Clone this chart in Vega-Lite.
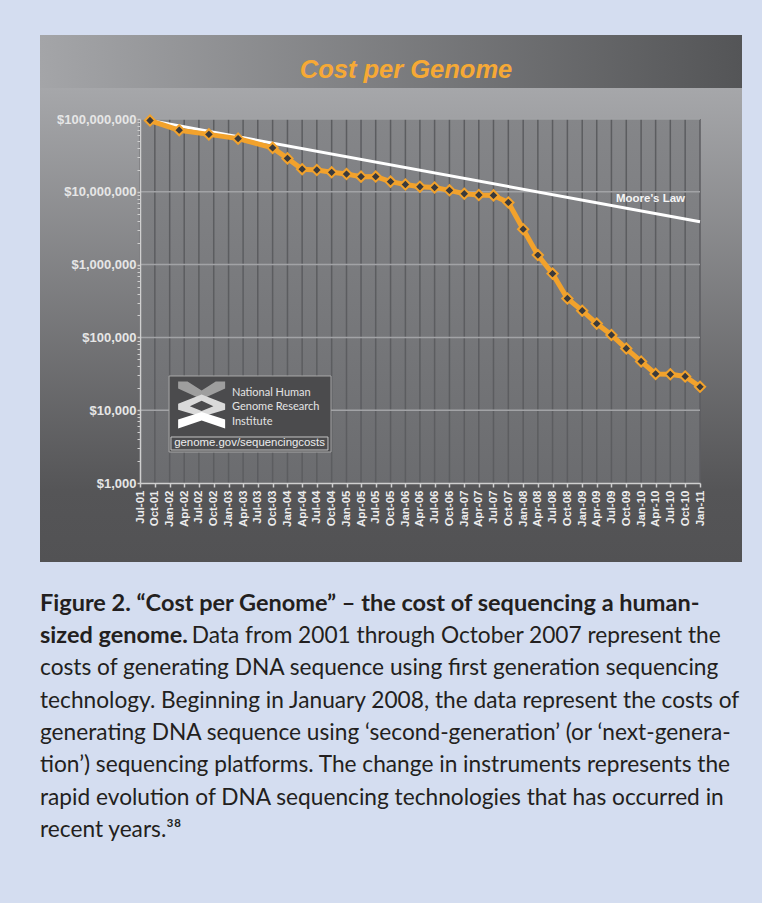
{
  "$schema": "https://vega.github.io/schema/vega-lite/v6.json",
  "background": "#d4ddf0",
  "padding": {"left": 40, "top": 35, "right": 30, "bottom": 70},
  "spacing": 0,
  "config": {"view": {"stroke": null}},
  "datasets": {
    "cost": [
      {"date": "2001-09-01", "cost": 95263072},
      {"date": "2002-03-01", "cost": 70175437},
      {"date": "2002-09-01", "cost": 61448422},
      {"date": "2003-03-01", "cost": 53751684},
      {"date": "2003-10-01", "cost": 40157554},
      {"date": "2004-01-01", "cost": 28780376},
      {"date": "2004-04-01", "cost": 20442576},
      {"date": "2004-07-01", "cost": 19934346},
      {"date": "2004-10-01", "cost": 18519312},
      {"date": "2005-01-01", "cost": 17534970},
      {"date": "2005-04-01", "cost": 16159699},
      {"date": "2005-07-01", "cost": 16180224},
      {"date": "2005-10-01", "cost": 13801124},
      {"date": "2006-01-01", "cost": 12585659},
      {"date": "2006-04-01", "cost": 11732535},
      {"date": "2006-07-01", "cost": 11455315},
      {"date": "2006-10-01", "cost": 10474556},
      {"date": "2007-01-01", "cost": 9408739},
      {"date": "2007-04-01", "cost": 9047003},
      {"date": "2007-07-01", "cost": 8927342},
      {"date": "2007-10-01", "cost": 7147571},
      {"date": "2008-01-01", "cost": 3063820},
      {"date": "2008-04-01", "cost": 1352982},
      {"date": "2008-07-01", "cost": 752080},
      {"date": "2008-10-01", "cost": 342502},
      {"date": "2009-01-01", "cost": 232735},
      {"date": "2009-04-01", "cost": 154714},
      {"date": "2009-07-01", "cost": 108065},
      {"date": "2009-10-01", "cost": 70333},
      {"date": "2010-01-01", "cost": 46774},
      {"date": "2010-04-01", "cost": 31512},
      {"date": "2010-07-01", "cost": 31125},
      {"date": "2010-10-01", "cost": 29092},
      {"date": "2011-01-01", "cost": 20963}
    ],
    "moore": [
      {"date": "2001-09-01", "cost": 95263072},
      {"date": "2011-01-01", "cost": 3880000}
    ],
    "quarters": [
      {"date": "2001-07-01"}, {"date": "2001-10-01"},
      {"date": "2002-01-01"}, {"date": "2002-04-01"}, {"date": "2002-07-01"}, {"date": "2002-10-01"},
      {"date": "2003-01-01"}, {"date": "2003-04-01"}, {"date": "2003-07-01"}, {"date": "2003-10-01"},
      {"date": "2004-01-01"}, {"date": "2004-04-01"}, {"date": "2004-07-01"}, {"date": "2004-10-01"},
      {"date": "2005-01-01"}, {"date": "2005-04-01"}, {"date": "2005-07-01"}, {"date": "2005-10-01"},
      {"date": "2006-01-01"}, {"date": "2006-04-01"}, {"date": "2006-07-01"}, {"date": "2006-10-01"},
      {"date": "2007-01-01"}, {"date": "2007-04-01"}, {"date": "2007-07-01"}, {"date": "2007-10-01"},
      {"date": "2008-01-01"}, {"date": "2008-04-01"}, {"date": "2008-07-01"}, {"date": "2008-10-01"},
      {"date": "2009-01-01"}, {"date": "2009-04-01"}, {"date": "2009-07-01"}, {"date": "2009-10-01"},
      {"date": "2010-01-01"}, {"date": "2010-04-01"}, {"date": "2010-07-01"}, {"date": "2010-10-01"},
      {"date": "2011-01-01"}
    ],
    "decades": [{"v": 10000}, {"v": 100000}, {"v": 1000000}, {"v": 10000000}, {"v": 100000000}],
    "one": [{}]
  },
  "title": {
    "text": ["Figure 2. “Cost per Genome” – the cost of sequencing a human-", "sized genome."],
    "subtitle": [
      "\u200b\u2003\u2003\u2003\u2003\u2003\u2003\u2003\u2002\u2009\u2009\u200a\u2009\u2002Data from 2001 through October 2007 represent the",
      "costs of generating DNA sequence using first generation sequencing",
      "technology. Beginning in January 2008, the data represent the costs of",
      "generating DNA sequence using ‘second-generation’ (or ‘next-genera-",
      "tion’) sequencing platforms. The change in instruments represents the",
      "rapid evolution of DNA sequencing technologies that has occurred in",
      "recent years.³⁸"
    ],
    "orient": "bottom",
    "anchor": "start",
    "frame": "group",
    "offset": 30,
    "font": "Lato",
    "fontSize": 23.5,
    "fontWeight": "bold",
    "color": "#231f20",
    "lineHeight": 32.4,
    "subtitleFont": "Lato",
    "subtitleFontSize": 22.7,
    "subtitleFontWeight": "normal",
    "subtitleColor": "#231f20",
    "subtitleLineHeight": 32.4,
    "subtitlePadding": -23
  },
  "vconcat": [
    {
      "width": 702,
      "height": 53,
      "view": {"stroke": null, "fill": {"gradient": "linear", "x1": 0, "y1": 0, "x2": 1, "y2": 0, "stops": [{"offset": 0, "color": "#a4a5a8"}, {"offset": 1, "color": "#545557"}]}},
      "data": {"values": [{"label": "Cost per Genome"}]},
      "mark": {"type": "text", "font": "Liberation Sans", "fontSize": 25.5, "fontWeight": "bold", "fontStyle": "italic", "color": "#f6a935", "baseline": "alphabetic", "dx": 15, "dy": 16},
      "encoding": {"text": {"field": "label"}}
    },
    {
      "width": 702,
      "height": 474,
      "view": {"stroke": null, "fill": {"gradient": "linear", "x1": 0, "y1": 0, "x2": 0, "y2": 1, "stops": [{"offset": 0, "color": "#a6a7aa"}, {"offset": 0.85, "color": "#555557"}, {"offset": 1, "color": "#525254"}]}},
      "layer": [
        {
          "data": {"name": "one"},
          "mark": {"type": "rect", "color": {"gradient": "linear", "x1": 0, "y1": 0, "x2": 0, "y2": 1, "stops": [{"offset": 0, "color": "#858689"}, {"offset": 1, "color": "#6b6c6f"}]}},
          "encoding": {
            "x": {
              "datum": {"year": 2001, "month": 7, "date": 1, "utc": true},
              "type": "temporal",
              "title": null,
              "scale": {"type": "utc", "domain": [{"year": 2001, "month": 7, "date": 1, "utc": true}, {"year": 2011, "month": 1, "date": 1, "utc": true}], "range": [100, 660], "nice": false},
              "axis": {
                "title": null,
                "tickCount": {"interval": "month", "step": 3},
                "labelExpr": "utcFormat(datum.value, '%b-%y')",
                "labelAngle": -90,
                "labelFont": "Liberation Sans",
                "labelFontWeight": "bold",
                "labelFontSize": 11.5,
                "labelColor": "#ececec",
                "labelPadding": 3,
                "labelOverlap": false,
                "labelFlush": false,
                "labelBound": false,
                "tickSize": 4,
                "tickColor": "#cfcfcf",
                "tickWidth": 1.5,
                "domainColor": "#cfcfcf",
                "domainWidth": 1.5,
                "grid": false,
                "offset": -79,
                "zindex": 1
              }
            },
            "x2": {"datum": {"year": 2011, "month": 1, "date": 1, "utc": true}},
            "y": {
              "datum": 1000,
              "type": "quantitative",
              "title": null,
              "scale": {"type": "log", "domain": [1000, 100000000], "range": [395, 31], "nice": false},
              "axis": {
                "title": null,
                "values": [1000, 2000, 3000, 4000, 5000, 6000, 7000, 8000, 9000,
                           10000, 20000, 30000, 40000, 50000, 60000, 70000, 80000, 90000,
                           100000, 200000, 300000, 400000, 500000, 600000, 700000, 800000, 900000,
                           1000000, 2000000, 3000000, 4000000, 5000000, 6000000, 7000000, 8000000, 9000000,
                           10000000, 20000000, 30000000, 40000000, 50000000, 60000000, 70000000, 80000000, 90000000,
                           100000000],
                "labelExpr": "substring(toString(datum.value), 0, 1) == '1' ? format(datum.value, '$,.0f') : ''",
                "labelFont": "Liberation Sans",
                "labelFontWeight": "bold",
                "labelFontSize": 13,
                "labelColor": "#e6e6e6",
                "labelPadding": 1,
                "labelOverlap": false,
                "labelFlush": false,
                "labelBound": false,
                "tickSize": 3,
                "tickColor": "#cfcfcf",
                "tickWidth": {"condition": {"test": "substring(toString(datum.value), 0, 1) == '1'", "value": 1.5}, "value": 1},
                "domainColor": "#cfcfcf",
                "domainWidth": 1.5,
                "grid": false,
                "offset": -100,
                "zindex": 1
              }
            },
            "y2": {"datum": 100000000}
          }
        },
        {
          "data": {"name": "quarters"},
          "mark": {"type": "rule", "color": "#5c5d60", "strokeWidth": 1.5},
          "encoding": {
            "x": {"field": "date", "type": "temporal", "title": null},
            "y": {"datum": 1000, "type": "quantitative", "title": null},
            "y2": {"datum": 100000000}
          }
        },
        {
          "data": {"name": "decades"},
          "mark": {"type": "rule", "color": "#a2a3a6", "strokeWidth": 1.5},
          "encoding": {
            "y": {"field": "v", "type": "quantitative", "title": null},
            "x": {"datum": {"year": 2001, "month": 7, "date": 1, "utc": true}, "type": "temporal", "title": null},
            "x2": {"datum": {"year": 2011, "month": 1, "date": 1, "utc": true}}
          }
        },
        {
          "data": {"name": "one"},
          "mark": {"type": "rect", "color": "#4b4b4d", "stroke": "#a9a9a9", "strokeWidth": 1},
          "encoding": {
            "x": {"datum": {"year": 2001, "month": 12, "date": 28, "utc": true}, "type": "temporal", "title": null},
            "x2": {"datum": {"year": 2004, "month": 9, "date": 27, "utc": true}},
            "y": {"datum": 29500, "type": "quantitative", "title": null},
            "y2": {"datum": 2667}
          }
        },
        {
          "data": {"name": "one"},
          "mark": {"type": "rect", "color": "#4b4b4d", "stroke": "#c4c4c4", "strokeWidth": 1},
          "encoding": {
            "x": {"datum": {"year": 2002, "month": 1, "date": 9, "utc": true}, "type": "temporal", "title": null},
            "x2": {"datum": {"year": 2004, "month": 9, "date": 8, "utc": true}},
            "y": {"datum": 4285, "type": "quantitative", "title": null},
            "y2": {"datum": 2840}
          }
        },
        {
          "data": {"name": "one"},
          "mark": {"type": "text", "text": "genome.gov/sequencingcosts", "font": "Liberation Sans", "fontSize": 11.4, "color": "#ededed", "baseline": "middle"},
          "encoding": {
            "x": {"datum": {"year": 2003, "month": 5, "date": 11, "utc": true}, "type": "temporal", "title": null},
            "y": {"datum": 3560, "type": "quantitative", "title": null}
          }
        },
        {
          "data": {"name": "one"},
          "mark": {"type": "text", "text": ["National Human", "Genome Research", "Institute"], "font": "Lato", "fontSize": 11, "lineHeight": 14.2, "color": "#e4e4e4", "align": "left", "baseline": "middle"},
          "encoding": {
            "x": {"datum": {"year": 2003, "month": 1, "date": 22, "utc": true}, "type": "temporal", "title": null},
            "y": {"datum": 17060, "type": "quantitative", "title": null}
          }
        },
        {
          "data": {"name": "one"},
          "mark": {"type": "point", "filled": true, "opacity": 1, "size": 2209, "color": "#9e9e9e", "strokeWidth": 0, "shape": "M-1,-1 L-0.6,-1 L0,-0.62 L0.6,-1 L1,-1 L1,-0.7 L0,-0.25 L-1,-0.7 Z"},
          "encoding": {
            "x": {"datum": {"year": 2002, "month": 7, "date": 18, "utc": true}, "type": "temporal", "title": null},
            "y": {"datum": 11780, "type": "quantitative", "title": null}
          }
        },
        {
          "data": {"name": "one"},
          "mark": {"type": "point", "filled": true, "opacity": 1, "size": 2209, "color": "#dadada", "strokeWidth": 0, "shape": "M-1,-0.05 L0,-0.45 L1,-0.05 L1,0.2 L0,0.5 L-1,0.2 Z M-0.5,0.05 L0,0.25 L0.5,0.05 L0,-0.18 Z"},
          "encoding": {
            "x": {"datum": {"year": 2002, "month": 7, "date": 18, "utc": true}, "type": "temporal", "title": null},
            "y": {"datum": 11780, "type": "quantitative", "title": null}
          }
        },
        {
          "data": {"name": "one"},
          "mark": {"type": "point", "filled": true, "opacity": 1, "size": 2209, "color": "#ffffff", "strokeWidth": 0, "shape": "M-1,1 L-1,0.62 L0,0.3 L1,0.62 L1,1 L0,0.66 Z"},
          "encoding": {
            "x": {"datum": {"year": 2002, "month": 7, "date": 18, "utc": true}, "type": "temporal", "title": null},
            "y": {"datum": 11780, "type": "quantitative", "title": null}
          }
        },
        {
          "data": {"name": "moore"},
          "mark": {"type": "line", "color": "#ffffff", "strokeWidth": 3},
          "encoding": {
            "x": {"field": "date", "type": "temporal", "title": null},
            "y": {"field": "cost", "type": "quantitative", "title": null}
          }
        },
        {
          "data": {"name": "cost"},
          "mark": {"type": "line", "color": "#f2a22c", "strokeWidth": 5},
          "encoding": {
            "x": {"field": "date", "type": "temporal", "title": null},
            "y": {"field": "cost", "type": "quantitative", "title": null}
          }
        },
        {
          "data": {"name": "cost"},
          "mark": {"type": "point", "shape": "diamond", "filled": true, "fill": "#3a3a3c", "stroke": "#f2a22c", "strokeWidth": 2, "size": 105, "opacity": 1},
          "encoding": {
            "x": {"field": "date", "type": "temporal", "title": null},
            "y": {"field": "cost", "type": "quantitative", "title": null}
          }
        },
        {
          "data": {"name": "one"},
          "mark": {"type": "text", "text": "Moore's Law", "font": "Liberation Sans", "fontWeight": "bold", "fontSize": 11.5, "color": "#f4f4f4", "baseline": "middle"},
          "encoding": {
            "x": {"datum": {"year": 2010, "month": 2, "date": 28, "utc": true}, "type": "temporal", "title": null},
            "y": {"datum": 7960000, "type": "quantitative", "title": null}
          }
        }
      ]
    }
  ]
}
